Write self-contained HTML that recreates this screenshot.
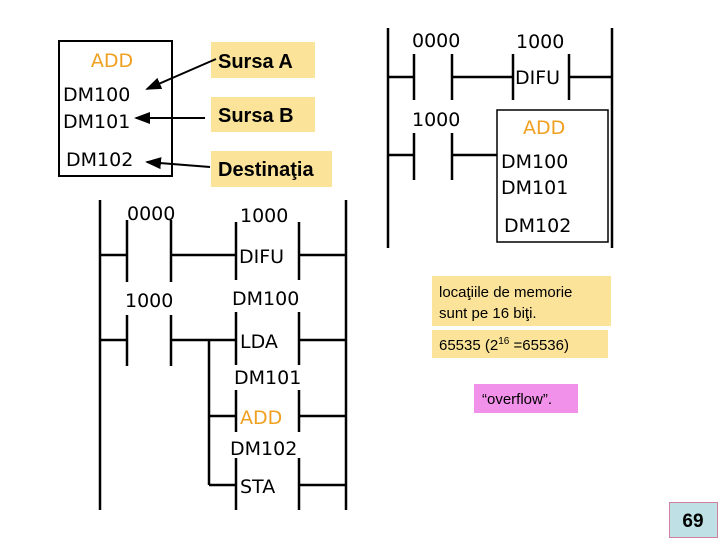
<!DOCTYPE html>
<html><head><meta charset="utf-8"><style>
body{margin:0;background:#fff;width:720px;height:540px;overflow:hidden}
svg text{font-family:"Liberation Sans",sans-serif}
.m{font-family:"DejaVu Sans",sans-serif;font-size:19px;fill:#000}
.o{fill:#f0a020}
.b{font-weight:bold;font-size:20px;fill:#000}
</style></head><body>
<svg width="720" height="540" viewBox="0 0 720 540" xmlns="http://www.w3.org/2000/svg">
<defs><marker id="ar" markerWidth="8" markerHeight="8" refX="7" refY="4" orient="auto"><path d="M0,1 L8,4 L0,7 z" fill="#000"/></marker></defs>
<!-- top-left box -->
<rect x="59" y="41" width="113" height="135" fill="#fff" stroke="#000" stroke-width="2"/>
<text x="112" y="67" class="m o" text-anchor="middle" font-size="21">ADD</text>
<text x="63" y="101" class="m">DM100</text>
<text x="63" y="128" class="m">DM101</text>
<text x="66" y="166" class="m">DM102</text>
<rect x="211" y="42" width="104" height="36" fill="#fbe49a"/>
<text x="218" y="68" class="b">Sursa A</text>
<rect x="211" y="97" width="104" height="35" fill="#fbe49a"/>
<text x="218" y="122" class="b">Sursa B</text>
<rect x="211" y="151" width="121" height="36" fill="#fbe49a"/>
<text x="218" y="176" class="b">Destinaţia</text>
<g stroke="#000" stroke-width="2" marker-end="url(#ar)">
<line x1="216" y1="59" x2="147" y2="89"/>
<line x1="205" y1="118" x2="136" y2="118"/>
<line x1="210" y1="167" x2="147" y2="162"/>
</g>
<!-- bottom-left ladder -->
<g stroke="#000" stroke-width="2.5" fill="none">
<line x1="100" y1="200" x2="100" y2="510"/>
<line x1="346" y1="200" x2="346" y2="510"/>
<line x1="127" y1="220" x2="127" y2="282"/><line x1="171" y1="220" x2="171" y2="282"/>
<line x1="100" y1="255" x2="127" y2="255"/><line x1="171" y1="255" x2="236" y2="255"/>
<line x1="236" y1="222" x2="236" y2="280"/><line x1="299" y1="222" x2="299" y2="280"/>
<line x1="299" y1="255" x2="346" y2="255"/>
<line x1="127" y1="315" x2="127" y2="366"/><line x1="171" y1="315" x2="171" y2="366"/>
<line x1="100" y1="340" x2="127" y2="340"/><line x1="171" y1="340" x2="236" y2="340"/>
<line x1="209" y1="340" x2="209" y2="485"/>
<line x1="236" y1="312" x2="236" y2="365"/><line x1="299" y1="312" x2="299" y2="365"/>
<line x1="236" y1="390" x2="236" y2="432"/><line x1="299" y1="390" x2="299" y2="432"/>
<line x1="236" y1="458" x2="236" y2="510"/><line x1="299" y1="458" x2="299" y2="510"/>
<line x1="299" y1="340" x2="346" y2="340"/>
<line x1="209" y1="416" x2="236" y2="416"/><line x1="299" y1="416" x2="346" y2="416"/>
<line x1="209" y1="485" x2="236" y2="485"/><line x1="299" y1="485" x2="346" y2="485"/>
</g>
<text x="127" y="220" class="m">0000</text>
<text x="240" y="222" class="m">1000</text>
<text x="239" y="263" class="m">DIFU</text>
<text x="125" y="307" class="m">1000</text>
<text x="232" y="305" class="m">DM100</text>
<text x="240" y="348" class="m" font-size="24">LDA</text>
<text x="234" y="384" class="m">DM101</text>
<text x="240" y="424" class="m o" font-size="24">ADD</text>
<text x="230" y="455" class="m">DM102</text>
<text x="240" y="493" class="m" font-size="24">STA</text>
<!-- top-right ladder -->
<g stroke="#000" stroke-width="2.5" fill="none">
<line x1="388" y1="28" x2="388" y2="248"/>
<line x1="612" y1="28" x2="612" y2="248"/>
<line x1="414" y1="54" x2="414" y2="100"/><line x1="452" y1="54" x2="452" y2="100"/>
<line x1="388" y1="77" x2="414" y2="77"/><line x1="452" y1="77" x2="513" y2="77"/>
<line x1="513" y1="54" x2="513" y2="100"/><line x1="569" y1="54" x2="569" y2="100"/>
<line x1="569" y1="77" x2="612" y2="77"/>
<line x1="414" y1="133" x2="414" y2="180"/><line x1="452" y1="133" x2="452" y2="180"/>
<line x1="388" y1="155" x2="414" y2="155"/><line x1="452" y1="155" x2="497" y2="155"/>
</g>
<rect x="497" y="110" width="111" height="132" fill="#fff" stroke="#000" stroke-width="1.5"/>
<text x="412" y="47" class="m">0000</text>
<text x="516" y="48" class="m">1000</text>
<text x="515" y="84" class="m">DIFU</text>
<text x="412" y="126" class="m">1000</text>
<text x="523" y="134" class="m o" font-size="21">ADD</text>
<text x="501" y="168" class="m">DM100</text>
<text x="501" y="194" class="m">DM101</text>
<text x="504" y="232" class="m">DM102</text>
<!-- notes -->
<rect x="432" y="276" width="179" height="50" fill="#fbe49a"/>
<text x="439" y="297" font-size="15">locaţiile de memorie</text>
<text x="439" y="318" font-size="15">sunt pe 16 biţi.</text>
<rect x="432" y="330" width="176" height="28" fill="#fbe49a"/>
<text x="439" y="350" font-size="15">65535 (2<tspan font-size="10" dy="-6">16</tspan><tspan dy="6"> =65536)</tspan></text>
<rect x="474" y="384" width="104" height="29" fill="#f291ea"/>
<text x="482" y="404" font-size="15">“overflow”.</text>
<rect x="669.5" y="502.5" width="48" height="35" fill="#bfe0e4" stroke="#d080a0"/>
<text x="693" y="527" text-anchor="middle" font-family="Liberation Serif,serif" font-weight="bold" font-size="19">69</text>
</svg>
</body></html>
